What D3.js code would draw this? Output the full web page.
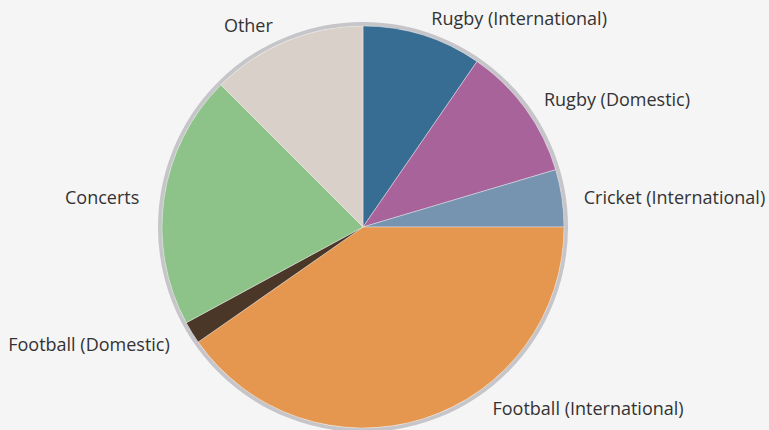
<!DOCTYPE html>
<html>
<head>
<meta charset="utf-8">
<script src="https://cdn.jsdelivr.net/npm/d3@7"></script>
<style>
  html, body { margin: 0; padding: 0; background: #f5f5f5; }
  svg { display: block; }
  .label { font-family: "Open Sans", sans-serif; font-size: 18px; fill: #333; }
</style>
</head>
<body>
<svg id="chart" width="769" height="430"></svg>
<script>
// Share of events by type (%)
const categories = [
  "Rugby (International)",
  "Rugby (Domestic)",
  "Cricket (International)",
  "Football (International)",
  "Football (Domestic)",
  "Concerts",
  "Other"
];
const shares = [9.6, 10.8, 4.6, 40.3, 1.8, 20.4, 12.5];
const colors = ["#376d93", "#a9639b", "#7693b0", "#e6974f", "#4a3728", "#8dc388", "#d9d0ca"];

const width = 769, height = 430;
const cx = 363, cy = 227;
const radius = 201;
const labelRadius = 220;

const data = categories.map((c, i) => ({ name: c, value: shares[i], color: colors[i] }));

const svg = d3.select("#chart");
const g = svg.append("g").attr("transform", `translate(${cx},${cy})`);

const pie = d3.pie().value(d => d.value).sort(null);
const arc = d3.arc().innerRadius(0).outerRadius(radius);
const arcs = pie(data);

// outer rim
g.append("circle")
  .attr("r", radius + 2)
  .attr("fill", "none")
  .attr("stroke", "#c6c6ca")
  .attr("stroke-width", 4);

g.selectAll("path.slice")
  .data(arcs)
  .join("path")
  .attr("class", "slice")
  .attr("d", arc)
  .attr("fill", d => d.data.color)
  .attr("stroke", "#f5f5f5")
  .attr("stroke-width", 0.4);

// labels sit on a circle just outside the rim; slide along it to stay in view
const maxY = height - 23 - cy;
g.selectAll("text.label")
  .data(arcs)
  .join("text")
  .attr("class", "label")
  .each(function(d) {
    let a = (d.startAngle + d.endAngle) / 2;
    let x = labelRadius * Math.sin(a);
    let y = -labelRadius * Math.cos(a);
    if (y > maxY) {
      const a2 = Math.acos(-maxY / labelRadius);
      a = a < Math.PI ? a2 : 2 * Math.PI - a2;
      x = labelRadius * Math.sin(a);
      y = -labelRadius * Math.cos(a);
    }
    const right = x >= 0;
    d3.select(this)
      .attr("x", x + (right ? 3 : -6))
      .attr("y", y + 2)
      .attr("dy", "0.35em")
      .attr("text-anchor", right ? "start" : "end")
      .text(d.data.name);
  });
</script>
</body>
</html>
